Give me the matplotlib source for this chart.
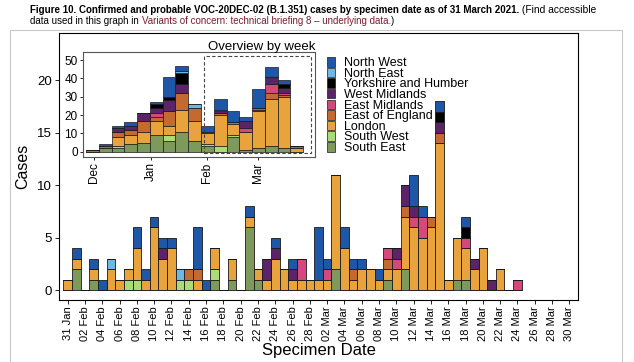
import numpy as np
import pandas as pd
import matplotlib
matplotlib.use("Agg")
import matplotlib.pyplot as plt
from matplotlib.patches import Patch, Rectangle

plt.rcParams["font.family"] = ["Liberation Sans", "DejaVu Sans"]

# stacking order, bottom to top
regions = ["South East", "South West", "London", "East of England", "East Midlands",
           "West Midlands", "Yorkshire and Humber", "North East", "North West"]
colors = ["#7d9a5c", "#a9dc78", "#e8a33c", "#c4692f", "#d5487c",
          "#5c2468", "#000000", "#6db7e6", "#1e56a8"]

# daily cases, day 0 = 31 Jan 2021, up to day 52 (24 Mar)
south_east = [0, 2, 0, 1, 0, 0, 0, 0, 0, 0,
              0, 0, 0, 0, 0, 0, 0, 1, 0, 1,
              0, 6, 1, 0, 0, 0, 0, 0, 0, 0,
              0, 2, 0, 0, 0, 0, 0, 1, 0, 2,
              0, 0, 0, 0, 0, 1, 1, 0, 0, 0,
              0, 0, 0]
south_west = [0, 0, 0, 0, 0, 0, 0, 1, 1, 0,
              0, 0, 0, 1, 1, 0, 0, 1, 0, 0,
              0, 0, 0, 0, 0, 0, 0, 0, 0, 0,
              0, 0, 0, 0, 0, 0, 0, 0, 0, 0,
              0, 0, 0, 0, 0, 0, 0, 0, 0, 0,
              0, 0, 0]
london = [1, 1, 0, 1, 0, 2, 1, 1, 3, 1,
          6, 3, 4, 0, 0, 1, 0, 2, 0, 2,
          0, 1, 1, 1, 3, 2, 1, 1, 1, 1,
          1, 9, 4, 1, 2, 2, 1, 1, 2, 5,
          6, 5, 6, 14, 1, 4, 3, 2, 4, 0,
          2, 0, 0]
east_of_england = [0, 0, 0, 0, 0, 0, 0, 0, 0, 0,
                   0, 0, 0, 0, 1, 1, 0, 0, 0, 0,
                   0, 0, 0, 0, 0, 0, 0, 0, 0, 0,
                   0, 0, 0, 1, 0, 0, 0, 1, 0, 1,
                   0, 0, 1, 1, 0, 0, 0, 0, 0, 0,
                   0, 0, 0]
east_midlands = [0, 0, 0, 0, 0, 0, 0, 0, 0, 0,
                 0, 0, 0, 0, 0, 0, 0, 0, 0, 0,
                 0, 0, 0, 0, 0, 0, 0, 2, 0, 0,
                 1, 0, 0, 0, 0, 0, 0, 1, 1, 0,
                 1, 2, 0, 0, 0, 0, 1, 0, 0, 0,
                 0, 0, 1]
west_midlands = [0, 0, 0, 0, 0, 0, 0, 0, 0, 0,
                 0, 1, 0, 0, 0, 0, 0, 0, 0, 0,
                 0, 0, 0, 2, 1, 0, 1, 0, 0, 0,
                 0, 0, 0, 0, 0, 0, 0, 0, 1, 2,
                 1, 0, 0, 1, 0, 0, 0, 1, 0, 1,
                 0, 0, 0]
yorkshire = [0, 0, 0, 0, 0, 0, 0, 0, 0, 0,
             0, 0, 0, 0, 0, 0, 0, 0, 0, 0,
             0, 0, 0, 0, 0, 0, 0, 0, 0, 0,
             0, 0, 0, 0, 0, 0, 0, 0, 0, 0,
             0, 0, 0, 1, 0, 0, 1, 0, 0, 0,
             0, 0, 0]
north_east = [0, 0, 0, 0, 0, 1, 0, 0, 0, 0,
              0, 0, 0, 1, 0, 0, 0, 0, 0, 0,
              0, 0, 0, 0, 0, 0, 0, 0, 0, 0,
              0, 0, 0, 0, 0, 0, 0, 0, 0, 0,
              0, 0, 0, 0, 0, 0, 0, 0, 0, 0,
              0, 0, 0]
north_west = [0, 1, 0, 1, 1, 0, 0, 0, 2, 1,
              1, 1, 1, 0, 0, 4, 1, 0, 0, 0,
              0, 1, 0, 0, 1, 0, 1, 0, 0, 5,
              1, 0, 2, 1, 1, 0, 1, 0, 0, 0,
              3, 1, 0, 1, 0, 0, 1, 0, 0, 0,
              0, 0, 0]
daily = [south_east, south_west, london, east_of_england, east_midlands,
         west_midlands, yorkshire, north_east, north_west]

# weekly counts for the weeks before February (weeks starting 30 Nov .. 25 Jan)
wk_south_east = [0, 2, 2, 4, 5, 9, 6, 11, 6]
wk_south_west = [0, 0, 1, 0, 0, 0, 3, 0, 0]
wk_london = [0, 0, 5, 5, 6, 8, 5, 12, 11]
wk_east_of_england = [1, 1, 3, 3, 6, 2, 8, 9, 7]
wk_east_midlands = [0, 0, 0, 0, 0, 2, 0, 0, 0]
wk_west_midlands = [0, 0, 2, 2, 4, 3, 6, 5, 0]
wk_yorkshire = [0, 0, 0, 0, 0, 2, 2, 6, 0]
wk_north_east = [0, 0, 0, 0, 0, 0, 0, 1, 2]
wk_north_west = [0, 1, 1, 2, 0, 1, 11, 3, 0]
early_weeks = [wk_south_east, wk_south_west, wk_london, wk_east_of_england, wk_east_midlands,
               wk_west_midlands, wk_yorkshire, wk_north_east, wk_north_west]

# week start days relative to 31 Jan
week_starts = np.arange(-62, 51, 7)

days = np.arange(len(london))
tick_days = np.arange(0, 59, 2)
tick_labels = pd.date_range("2021-01-31", periods=len(tick_days), freq="2D").strftime("%d %b")

fig = plt.figure(figsize=(6.34, 3.62), dpi=100)
W, H = 634, 362

def px(x0, y0, x1, y1):
    return [x0 / W, 1 - y1 / H, (x1 - x0) / W, (y1 - y0) / H]

# outer border of the embedded picture
fig.add_artist(Rectangle((10 / W, -0.01), 612 / W, 1 - 30 / H + 0.01, transform=fig.transFigure,
                         fill=False, edgecolor="#c8c8c8", linewidth=0.8))

ax = fig.add_axes(px(59, 33, 578, 300))
bottom = np.zeros(len(days))
for name, vals, col in zip(regions, daily, colors):
    vals = np.array(vals)
    ax.bar(days, vals, width=1.0, bottom=bottom, color=col, edgecolor="#1a1a1a", linewidth=0.6)
    bottom += vals
ax.set_xlim(-1, 59)
ax.set_ylim(-0.95, 24.5)
ax.set_yticks([0, 5, 10, 15, 20])
ax.set_xticks(tick_days)
ax.set_xticklabels(tick_labels, rotation=90, fontsize=8)
ax.tick_params(axis="y", labelsize=9.5, length=3, width=0.6, pad=2)
ax.tick_params(axis="x", length=3, width=0.6, pad=1.5)
for s in ax.spines.values():
    s.set_linewidth(0.8)
ax.set_ylabel("Cases", fontsize=11.5, labelpad=5)
ax.set_xlabel("Specimen Date", fontsize=12, labelpad=1)

# inset: overview by week
ins = fig.add_axes(px(83.3, 51.7, 315, 156.7))
n_early = len(wk_london)
bottom = np.zeros(len(week_starts))
for name, early, vals, col in zip(regions, early_weeks, daily, colors):
    vals = np.array(vals + [0] * 10)
    late = [vals[s:s + 7].sum() for s in week_starts[n_early:]]
    wk = np.array(early + late)
    ins.bar(week_starts, wk, width=7, bottom=bottom, color=col, edgecolor="#1a1a1a", linewidth=0.5)
    bottom += wk
ins.set_xlim(-67, 60)
ins.set_ylim(-2.7, 54.6)
ins.set_yticks([0, 10, 20, 30, 40, 50])
ins.set_xticks([-61, -30, 1, 29])
ins.set_xticklabels(["Dec", "Jan", "Feb", "Mar"], rotation=90)
ins.tick_params(labelsize=8.5, length=2.5, width=0.6, pad=1.5)
for s in ins.spines.values():
    s.set_linewidth(0.8)
    s.set_color("#555555")
ins.add_patch(Rectangle((-1, -0.6), 59, 52.6, fill=False, linestyle=(0, (3, 2)),
                        edgecolor="#444444", linewidth=0.8))
fig.text(315 / W, 1 - 50 / H, "Overview by week", ha="right", va="baseline", fontsize=9.5)

handles = [Patch(facecolor=c, edgecolor="#1a1a1a", linewidth=0.5) for c in colors][::-1]
fig.legend(handles, regions[::-1], loc="upper left", bbox_to_anchor=(327 / W, 1 - 57 / H),
           frameon=False, fontsize=9, handlelength=0.6, handleheight=0.8, handletextpad=0.75,
           labelspacing=-0.12, borderaxespad=0, borderpad=0)

# caption above the chart
narrow = ["Liberation Sans Narrow", "Liberation Sans", "DejaVu Sans"]
t1 = fig.text(30 / W, 1 - 13 / H, "Figure 10. Confirmed and probable VOC-20DEC-02 (B.1.351) cases by specimen date as of 31 March 2021.",
              fontsize=7, fontweight="bold", family=narrow, va="baseline")
ax.annotate(" (Find accessible", xy=(1, 0), xycoords=t1, va="bottom", fontsize=7.4, family=narrow,
            annotation_clip=False)
t3 = fig.text(30 / W, 1 - 24.5 / H, "data used in this graph in ", fontsize=7, family=narrow, va="baseline")
t4 = ax.annotate("Variants of concern: technical briefing 8 \u2013 underlying data.", xy=(1, 0), xycoords=t3,
                 va="bottom", fontsize=7, family=narrow, color="#7b1f2e", annotation_clip=False)
ax.annotate(")", xy=(1, 0), xycoords=t4, va="bottom", fontsize=7, family=narrow, annotation_clip=False)

fig.savefig("out.png", dpi=100)
